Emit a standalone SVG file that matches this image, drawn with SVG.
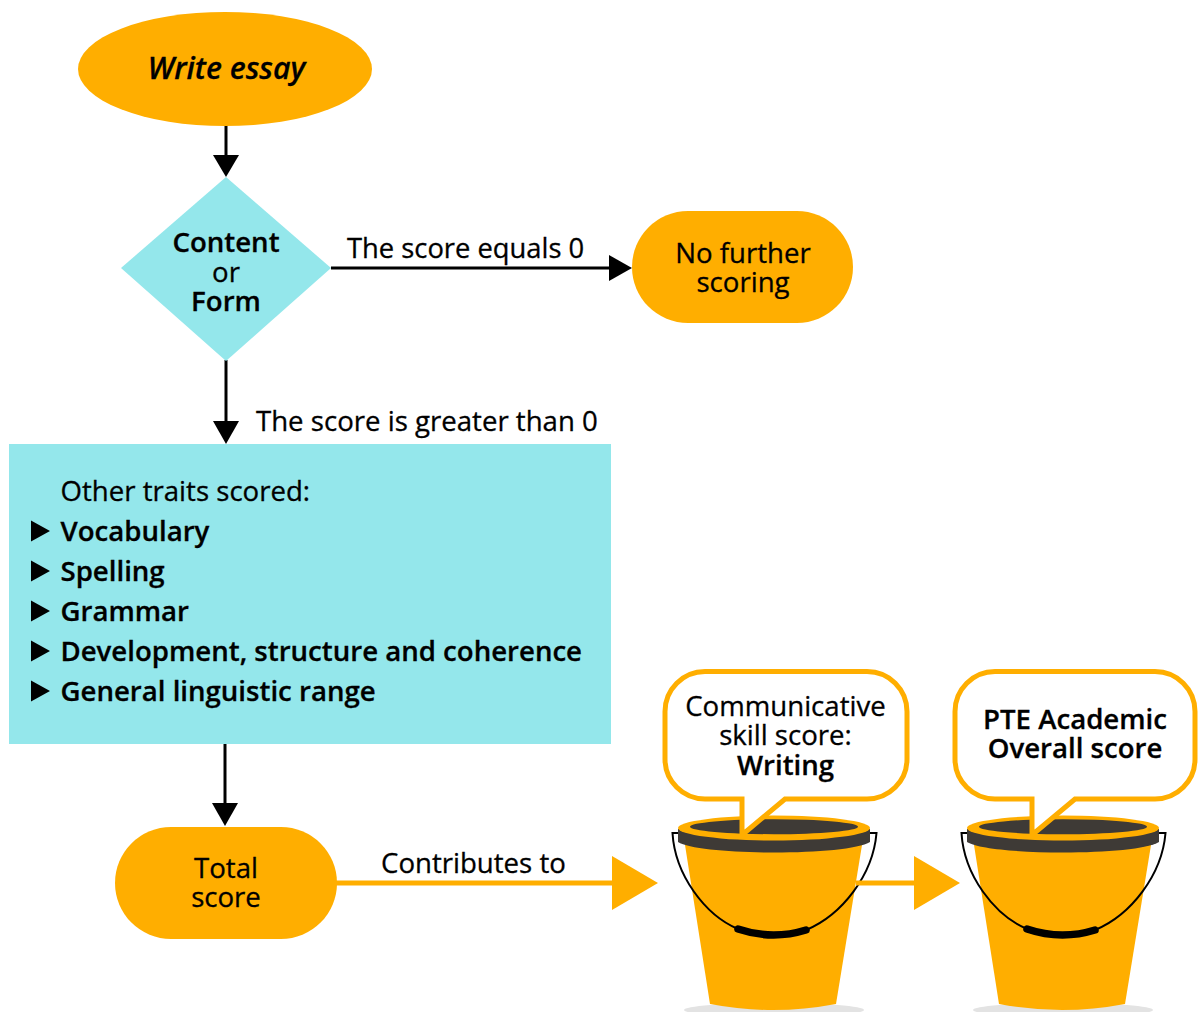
<svg xmlns="http://www.w3.org/2000/svg" width="1199" height="1012" viewBox="0 0 1199 1012">
<style>
text{font-family:"Open Sans","Noto Sans","Liberation Sans",sans-serif;font-size:27.600px;fill:#000;font-weight:400;stroke:#000;stroke-width:.3px}
.c{text-anchor:middle}
text.b{font-weight:600}
.o{fill:#ffae00}
.t{fill:#94e7eb}
.k{fill:#000}
.ln{stroke:#000;stroke-width:3;fill:none}
.lo{stroke:#ffae00;stroke-width:5;fill:none}
.d{fill:#3e3a36}
</style>
<defs>
<g id="bucket">
<ellipse cx="774" cy="1010" rx="90" ry="7" fill="#e3e3e3"/>
<path class="o" d="M685 845L862 845L836 1004Q773 1016 710 1004Z"/>
<path d="M678 833H672.500C675 875 705 915 738 929Q772 940.500 806 930C842 915 873 875 876.500 833H870" fill="none" stroke="#000" stroke-width="2"/>
<path d="M738 929Q772 940.500 806 930" fill="none" stroke="#000" stroke-width="7.500" stroke-linecap="round"/>
<path class="d" d="M678 829V842C700 856 848 856 870 842V829Z"/>
<ellipse class="o" cx="774" cy="828" rx="96" ry="12.500"/>
<ellipse class="d" cx="774" cy="826.700" rx="84" ry="7.500"/>
</g>
</defs>
<g id="connectors">
<path class="ln" d="M226 125V156"/><path class="k" d="M213 155H239L226 177Z"/>
<path class="ln" d="M331 268H610"/><path class="k" d="M609 255L632 268L609 281Z"/>
<path class="ln" d="M226 360V422"/><path class="k" d="M213 421H239L226 444Z"/>
<path class="ln" d="M225 744V804"/><path class="k" d="M212 803H238L225 826Z"/>
<path class="lo" d="M336 883H613"/><path class="o" d="M612 856L658 883L612 910Z"/>
</g>
<g id="bucket1"><use href="#bucket"/></g>
<g id="bucket2"><use href="#bucket" x="289"/></g>
<g id="connector-buckets"><path class="lo" d="M856 883H915"/><path class="o" d="M914 856L960 883L914 910Z"/></g>
<g id="write-essay"><ellipse class="o" cx="225" cy="69" rx="147" ry="57"/>
<text class="c b" x="226.500" y="78.500" style="font-style:italic;font-size:30.200px">Write essay</text></g>
<g id="content-form"><path class="t" d="M226 177L331 268L226 361L121 268Z"/>
<text class="c b" x="226" y="252">Content</text><text class="c" x="226" y="282">or</text><text class="c b" x="226" y="311">Form</text></g>
<text x="347" y="258" style="font-size:27.350px">The score equals 0</text>
<g id="no-further"><rect class="o" x="632" y="211" width="221" height="112" rx="56"/>
<text class="c" x="743" y="263">No further</text><text class="c" x="743" y="292">scoring</text></g>
<text x="256" y="431">The score is greater than 0</text>
<g id="traits"><rect class="t" x="9" y="444" width="602" height="300"/>
<text x="60.500" y="501">Other traits scored:</text>
<path class="k" d="M31 520.500L50 531L31 541.500ZM31 560.500L50 571L31 581.500ZM31 600.500L50 611L31 621.500ZM31 640.500L50 651L31 661.500ZM31 680.500L50 691L31 701.500Z"/>
<text class="b" x="60.500" y="541">Vocabulary</text>
<text class="b" x="60.500" y="581">Spelling</text>
<text class="b" x="60.500" y="621">Grammar</text>
<text class="b" x="60.500" y="661">Development, structure and coherence</text>
<text class="b" x="60.500" y="701">General linguistic range</text></g>
<g id="total-score"><rect class="o" x="115" y="827" width="222" height="112" rx="56"/>
<text class="c" x="226" y="878">Total</text><text class="c" x="226" y="907">score</text></g>
<text x="381" y="873">Contributes to</text>
<g id="callout1">
<path d="M742 835V799H705A40 40 0 0 1 665 759V711.500A40 40 0 0 1 705 671.500H867A40 40 0 0 1 907 711.500V759A40 40 0 0 1 867 799H785L742 835" fill="#fff" stroke="#ffae00" stroke-width="5"/>
<text class="c" x="785.500" y="716">Communicative</text><text class="c" x="785.500" y="745">skill score:</text><text class="c b" x="785.500" y="775">Writing</text></g>
<g id="callout2"><path d="M1032 835V799H995A40 40 0 0 1 955 759V711.500A40 40 0 0 1 995 671.500H1155A40 40 0 0 1 1195 711.500V759A40 40 0 0 1 1155 799H1075L1032 835" fill="#fff" stroke="#ffae00" stroke-width="5"/>
<text class="c b" x="1075" y="729">PTE Academic</text><text class="c b" x="1075" y="758">Overall score</text></g>
</svg>
